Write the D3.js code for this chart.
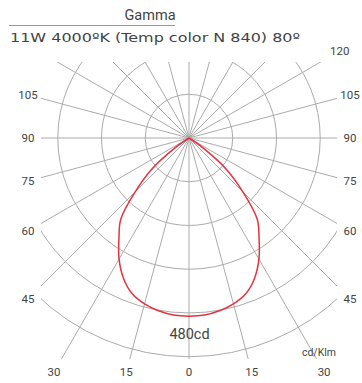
<!DOCTYPE html>
<html><head><meta charset="utf-8">
<script src="https://cdn.jsdelivr.net/npm/d3@7"></script>
<style>
html,body{margin:0;padding:0;background:#fff;}
svg{display:block;font-family:Roboto,"Liberation Sans",sans-serif;}
</style></head>
<body>
<svg id="chart" width="362" height="383"></svg>
<script>
// ---- data ----
const titleText = "Gamma";
const subtitleText = "11W 4000ºK (Temp color N 840) 80º";
const gammaAngles = [0, 5, 10, 15, 20, 25, 30, 35, 40, 45, 50, 55, 60];
const intensity  = [391, 390, 385, 377, 364, 340, 307, 268, 233, 167, 108, 35, 0];
const ringValues = [96, 192, 288, 384, 480];
const gridAngles = [0,15,30,45,60,75,90,105,120,135,150,165,180,195,210,225,240,255,270,285,300,315,330,345];
const rightLabels = [15, 30, 45, 60, 75, 90, 105, 120];
const leftLabels  = [15, 30, 45, 60, 75, 90, 105];
const centerLabel = [0];
const maxLabel = "480cd";
const unitLabel = "cd/Klm";

// ---- layout ----
const svg = d3.select("#chart");
const cx = 189, cy = 138;
const r = d3.scaleLinear().domain([0, 480]).range([0, 218.7]);
const clip = {x0: -148, x1: 148, y0: -76, y1: 221};
const lab = {x: 161, top: -87, bottom: 234};
const gridColor = "#ababab";
const textColor = "#444";

// title
svg.append("text").attr("x", 150).attr("y", 20).attr("text-anchor", "middle")
  .attr("font-size", 14.5).attr("fill", textColor).text(titleText);
svg.append("line").attr("x1", 9).attr("x2", 175).attr("y1", 25.5).attr("y2", 25.5)
  .attr("stroke", "#999").attr("stroke-width", 1);
svg.append("text").attr("x", 10).attr("y", 42)
  .attr("font-family", "'DejaVu Sans',sans-serif")
  .attr("font-size", 12.5).attr("fill", textColor)
  .attr("textLength", 290).attr("lengthAdjust", "spacingAndGlyphs").text(subtitleText);

svg.append("defs").append("clipPath").attr("id", "plotclip")
  .append("rect").attr("x", clip.x0).attr("y", clip.y0)
  .attr("width", clip.x1 - clip.x0).attr("height", clip.y1 - clip.y0);

const g = svg.append("g").attr("transform", `translate(${cx},${cy})`);
const grid = g.append("g").attr("clip-path", "url(#plotclip)");

grid.selectAll("circle.ring").data(ringValues).join("circle")
  .attr("class", "ring").attr("r", d => r(d))
  .attr("fill", "none").attr("stroke", gridColor).attr("stroke-width", 1);

const rad = a => a * Math.PI / 180;
grid.selectAll("line.spoke").data(gridAngles).join("line")
  .attr("class", "spoke")
  .attr("x1", 0).attr("y1", 0)
  .attr("x2", a => 400 * Math.sin(rad(a)))
  .attr("y2", a => 400 * Math.cos(rad(a)))
  .attr("stroke", gridColor).attr("stroke-width", 1);

// labels along rays
function labelPos(a, side) {
  const sx = Math.sin(rad(a)) * side, sy = Math.cos(rad(a));
  let t = Infinity;
  if (Math.abs(sx) > 1e-9) t = Math.min(t, lab.x / Math.abs(sx));
  if (sy > 1e-9) t = Math.min(t, lab.bottom / sy);
  if (sy < -1e-9) t = Math.min(t, lab.top / sy);
  return [sx * t, sy * t];
}
const labels = [
  ...centerLabel.map(a => ({a, side: 1})),
  ...rightLabels.map(a => ({a, side: 1})),
  ...leftLabels.map(a => ({a, side: -1}))
];
g.selectAll("text.ang").data(labels).join("text")
  .attr("class", "ang")
  .attr("x", d => labelPos(d.a, d.side)[0])
  .attr("y", d => labelPos(d.a, d.side)[1])
  .attr("text-anchor", "middle").attr("dominant-baseline", "central")
  .attr("font-size", 11.5).attr("fill", textColor)
  .text(d => d.a);

// intensity curve (symmetric C0/C180)
const pts = [];
for (let i = gammaAngles.length - 1; i >= 0; i--) pts.push({a: Math.PI + rad(gammaAngles[i]), v: intensity[i]});
for (let i = 1; i < gammaAngles.length; i++) pts.push({a: Math.PI - rad(gammaAngles[i]), v: intensity[i]});
const line = d3.lineRadial().angle(d => d.a).radius(d => r(d.v)).curve(d3.curveCatmullRom.alpha(0.5));
g.append("path").attr("d", line(pts)).attr("fill", "none")
  .attr("stroke", "#e6323e").attr("stroke-width", 1.5);

g.append("text").attr("x", 0.5).attr("y", r(ringValues[4]) - 22)
  .attr("text-anchor", "middle").attr("dominant-baseline", "central")
  .attr("font-size", 14.5).attr("fill", textColor).text(maxLabel);
g.append("text").attr("x", 130).attr("y", 214.5)
  .attr("text-anchor", "middle").attr("dominant-baseline", "central")
  .attr("font-size", 10.5).attr("fill", textColor).text(unitLabel);
</script>
</body></html>
